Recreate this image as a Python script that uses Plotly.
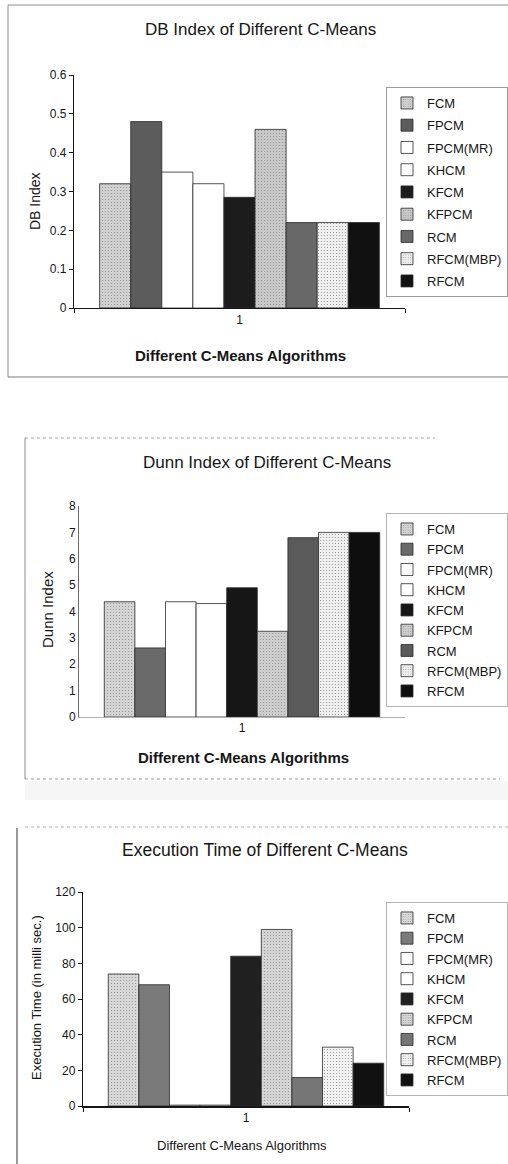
import plotly.graph_objects as go

# ---- data -------------------------------------------------------------
algorithms = ["FCM", "FPCM", "FPCM(MR)", "KHCM", "KFCM", "KFPCM", "RCM", "RFCM(MBP)", "RFCM"]
group_label = ["1"]

db_index = [0.32, 0.48, 0.35, 0.32, 0.285, 0.46, 0.22, 0.22, 0.22]
dunn_index = [4.37, 2.62, 4.37, 4.30, 4.90, 3.25, 6.80, 7.00, 7.00]
exec_time_ms = [74, 68, 0.5, 0.5, 84, 99, 16, 33, 24]

# ---- styling ----------------------------------------------------------
W, H = 508, 1164
FONT = "Liberation Sans, Arial, sans-serif"
INK = "#161616"

# light bars carry a fine dotted texture
TEXTURED = {"FCM", "KFPCM", "RFCM(MBP)"}


def px(x):
    return x / W


def py(y):
    return 1 - y / H


panels = [
    dict(
        values=db_index,
        colors=["#d0d0d0", "#5c5c5c", "#ffffff", "#ffffff", "#1c1c1c",
                "#c8c8c8", "#686868", "#efefef", "#111111"],
        title="DB Index of Different C-Means", title_xy=(260, 29), title_size=17,
        ytitle="DB Index", ytitle_xy=(35, 201), ytitle_font=dict(size=14),
        xtitle="Different C-Means Algorithms", xtitle_xy=(240, 355),
        xtitle_font=dict(size=15, weight="bold"),
        xdom=(74, 405), ydom=(308, 75), yrange=[0, 0.6], dtick=0.1,
        yline=dict(color=INK, width=1.2), yticks="outside",
        xline=dict(color=INK, width=1.4), xticks="outside",
        legend_top=87, legend_gap=2.35, legend_border="#9a9a9a",
    ),
    dict(
        values=dunn_index,
        colors=["#d4d4d4", "#6a6a6a", "#ffffff", "#ffffff", "#161616",
                "#cdcdcd", "#5a5a5a", "#efefef", "#0e0e0e"],
        title="Dunn Index of Different C-Means", title_xy=(267, 463), title_size=17,
        ytitle="Dunn Index", ytitle_xy=(47, 610), ytitle_font=dict(size=15),
        xtitle="Different C-Means Algorithms", xtitle_xy=(243, 757),
        xtitle_font=dict(size=15, weight="bold"),
        xdom=(79, 405), ydom=(717, 506), yrange=[0, 8], dtick=1,
        yline=dict(color="#6a6a6a", width=1), yticks="",
        xline=dict(color="#b0b0b0", width=1), xticks="",
        legend_top=513, legend_gap=0.35, legend_border="#b5b5b5",
    ),
    dict(
        values=exec_time_ms,
        colors=["#d8d8d8", "#7a7a7a", "#ffffff", "#ffffff", "#202020",
                "#d4d4d4", "#767676", "#f3f3f3", "#111111"],
        title="Execution Time of Different C-Means", title_xy=(265, 850), title_size=17.5,
        ytitle="Execution Time (in milli sec.)", ytitle_xy=(36, 998),
        ytitle_font=dict(size=13),
        xtitle="Different C-Means Algorithms", xtitle_xy=(242, 1145),
        xtitle_font=dict(size=13),
        xdom=(83, 409), ydom=(1106, 892), yrange=[0, 120], dtick=20,
        yline=dict(color=INK, width=1.4), yticks="outside",
        xline=dict(color=INK, width=1.6), xticks="outside",
        legend_top=902, legend_gap=0.35, legend_border="#b5b5b5",
    ),
]

fig = go.Figure()
layout = dict(
    width=W, height=H,
    margin=dict(l=0, r=0, t=0, b=0, autoexpand=False),
    paper_bgcolor="white", plot_bgcolor="white",
    font=dict(family=FONT, color=INK, size=12),
    barmode="group", bargap=0.155, bargroupgap=0,
    showlegend=True,
)
annotations = []

for i, p in enumerate(panels, start=1):
    sfx = "" if i == 1 else str(i)
    xa, ya, lg = "x" + sfx, "y" + sfx, "legend" + sfx

    for name, val, col in zip(algorithms, p["values"], p["colors"]):
        marker = dict(color=col, line=dict(color="#2a2a2a", width=0.8))
        if name in TEXTURED:
            marker["pattern"] = dict(shape=".", fgcolor="#8f8f8f", bgcolor=col,
                                     size=3, solidity=0.12, fillmode="replace")
        fig.add_trace(go.Bar(
            x=group_label, y=[val], name=name,
            xaxis=xa, yaxis=ya, legend=lg,
            legendgroup=f"{lg}-{name}",
            marker=marker,
            hoverinfo="name+y",
        ))

    layout["xaxis" + sfx] = dict(
        domain=[px(p["xdom"][0]), px(p["xdom"][1])], anchor=ya,
        showline=True, linecolor=p["xline"]["color"], linewidth=p["xline"]["width"],
        ticks=p["xticks"], tickson="boundaries", ticklen=4, tickcolor=INK,
        showgrid=False, tickfont=dict(size=12, color=INK), fixedrange=True,
    )
    layout["yaxis" + sfx] = dict(
        domain=[py(p["ydom"][0]), py(p["ydom"][1])], anchor=xa,
        range=p["yrange"], dtick=p["dtick"],
        showline=True, linecolor=p["yline"]["color"], linewidth=p["yline"]["width"],
        ticks=p["yticks"], ticklen=4, tickcolor=INK,
        showgrid=False, zeroline=False, tickfont=dict(size=12, color=INK),
        fixedrange=True,
    )
    layout[lg] = dict(
        x=1.0, y=py(p["legend_top"]),
        xanchor="right", yanchor="top",
        bgcolor="white", bordercolor=p["legend_border"], borderwidth=1,
        font=dict(size=13, family=FONT, color=INK),
        tracegroupgap=p["legend_gap"], traceorder="grouped",
        itemclick=False, itemdoubleclick=False,
    )

    annotations += [
        dict(text=p["title"], x=px(p["title_xy"][0]), y=py(p["title_xy"][1]),
             font=dict(size=p["title_size"])),
        dict(text=p["xtitle"], x=px(p["xtitle_xy"][0]), y=py(p["xtitle_xy"][1]),
             font=p["xtitle_font"]),
        dict(text=p["ytitle"], x=px(p["ytitle_xy"][0]), y=py(p["ytitle_xy"][1]),
             font=p["ytitle_font"], textangle=-90),
    ]

for a in annotations:
    a.update(xref="paper", yref="paper", showarrow=False,
             xanchor="center", yanchor="middle")
    a["font"] = dict(a["font"], color=INK, family=FONT)


# panel frames around each chart
def hline(y, x0, x1, color="#8c8c8c", width=1, dash="solid"):
    return dict(type="line", xref="paper", yref="paper",
                x0=px(x0), x1=px(x1), y0=py(y), y1=py(y),
                line=dict(color=color, width=width, dash=dash))


def vline(x, y0, y1, color="#8c8c8c", width=1, dash="solid"):
    return dict(type="line", xref="paper", yref="paper",
                x0=px(x), x1=px(x), y0=py(y0), y1=py(y1),
                line=dict(color=color, width=width, dash=dash))


shapes = [
    dict(type="rect", xref="paper", yref="paper", layer="below",
         x0=px(25), x1=px(508), y0=py(800), y1=py(781),
         fillcolor="#f6f6f6", line=dict(width=0)),
    hline(5, 8, 508, "#8a8a8a"),
    vline(8, 5, 377, "#8a8a8a"),
    hline(377, 8, 508, "#7a7a7a"),
    hline(438, 25, 435, "#a0a0a0", dash="dot"),
    vline(25, 438, 779, "#8a8a8a"),
    hline(779, 25, 500, "#9a9a9a", dash="dot"),
    hline(827, 25, 508, "#b0b0b0", dash="dot"),
    vline(17, 828, 1164, "#9a9a9a", width=2),
]

layout["annotations"] = annotations
layout["shapes"] = shapes
fig.update_layout(**layout)

# the figure fills the page exactly: no body margin, no scrollbars
fig.write_html(
    "out.html",
    post_script="document.body.style.margin='0';"
                "document.body.style.overflow='hidden';",
)
